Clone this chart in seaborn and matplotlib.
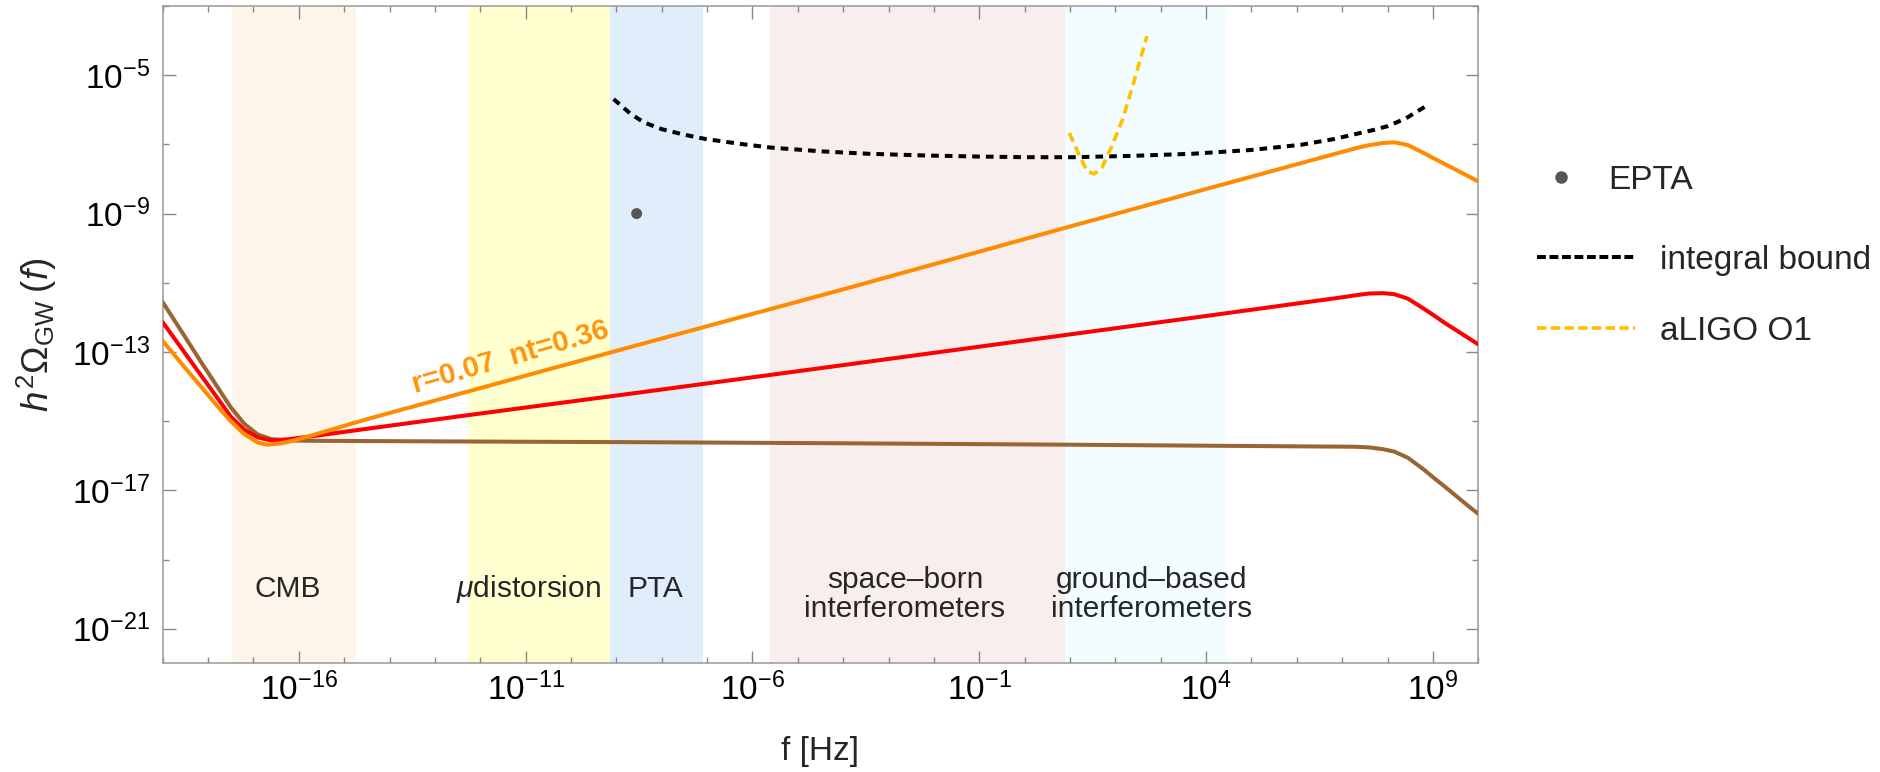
import numpy as np
import matplotlib
matplotlib.use("Agg")
import matplotlib.pyplot as plt
import seaborn as sns
from matplotlib.ticker import FixedLocator, NullFormatter, LogFormatterSciNotation
from matplotlib.lines import Line2D

# ---------------------------------------------------------------
# Spectra, given as log10(f / Hz) and log10(h^2 Omega_GW)
# ---------------------------------------------------------------
# r = 0.07, consistency relation (nt = -r/8)
brown_logf = [-19.0, -18.5, -18.17, -17.8, -17.5, -17.2, -16.9, -16.6, -16.2, -15.5,
              -12.0, -8.25, -4.0, 0.9, 4.0, 7.3, 7.6, 7.9, 8.15, 8.45, 8.8, 9.03, 9.25,
              9.5, 9.75, 10.0]
brown_logomega = [-11.56, -12.58, -13.26, -14.0, -14.6, -15.08, -15.39, -15.52, -15.56, -15.57,
                  -15.59, -15.61, -15.64, -15.68, -15.71, -15.74, -15.76, -15.81, -15.88,
                  -16.06, -16.40, -16.65, -16.88, -17.15, -17.42, -17.68]

# intermediate blue tilt
red_logf = [-19.0, -18.5, -18.17, -17.8, -17.5, -17.2, -16.9, -16.6, -16.2, -15.5, -15.23,
            -12.29, -8.25, -4.0, 0.9, 4.0, 7.0, 7.3, 7.6, 7.9, 8.15, 8.45, 8.8, 9.03, 9.25,
            9.5, 9.75, 10.0]
red_logomega = [-12.14, -13.05, -13.65, -14.32, -14.87, -15.25, -15.47, -15.56, -15.52, -15.40,
                -15.35, -14.83, -14.13, -13.38, -12.51, -11.96, -11.42, -11.36, -11.31, -11.30,
                -11.33, -11.46, -11.75, -11.95, -12.15, -12.36, -12.57, -12.78]

# r = 0.07, nt = 0.36
orange_logf = [-19.0, -18.5, -18.17, -17.8, -17.5, -17.2, -16.9, -16.7, -16.4, -16.1, -15.5,
               -14.49, -12.29, -10.82, -8.25, -4.0, 0.9, 4.0, 7.3, 7.6, 7.9, 8.15, 8.45, 8.8,
               9.03, 9.25, 9.5, 9.75, 10.0]
orange_logomega = [-12.68, -13.47, -13.98, -14.56, -15.0, -15.38, -15.62, -15.68, -15.64, -15.56,
                   -15.33, -14.94, -14.15, -13.62, -12.70, -11.19, -9.41, -8.29, -7.11, -7.02,
                   -6.96, -6.94, -7.02, -7.25, -7.41, -7.56, -7.73, -7.90, -8.07]

# integral bound
bound_logf = [-9.06, -8.7, -8.4, -8.0, -7.5, -7.05, -6.3, -5.61, -4.5, -3.46, -2.2, -1.07,
              0.0, 1.08, 2.4, 3.71, 5.0, 6.10, 6.8, 7.30, 7.7, 8.01, 8.4, 8.85]
bound_logomega = [-5.69, -6.10, -6.36, -6.56, -6.72, -6.84, -6.98, -7.09, -7.20, -7.27, -7.32,
                  -7.35, -7.37, -7.37, -7.33, -7.27, -7.16, -7.01, -6.85, -6.70, -6.58, -6.47,
                  -6.25, -5.89]

# aLIGO O1 sensitivity
ligo_logf = [0.985, 1.20, 1.38, 1.536, 1.70, 1.92, 2.156, 2.40, 2.695]
ligo_logomega = [-6.67, -7.30, -7.78, -7.85, -7.68, -7.06, -6.29, -5.23, -3.87]

# EPTA point
epta_f = [2.8e-9]
epta_omega = [1.0e-9]

# frequency windows of the experiments (log10 f edges)
band_names = ["CMB", r"$\mu$distorsion", "PTA", "space\u2013born\ninterferometers",
              "ground\u2013based\ninterferometers"]
band_lo = [-17.47, -12.26, -9.13, -5.62, 0.90]
band_hi = [-14.75, -9.13, -7.08, 0.90, 4.45]
band_colors = ["#FDF4EA", "#FFFFD0", "#E0EEFC", "#F9EEEE", "#F3FDFF"]
band_label_logf = [-16.24, -10.93, -8.13, -2.64, 2.79]

x_major = [1e-16, 1e-11, 1e-6, 1e-1, 1e4, 1e9]
y_major = [1e-21, 1e-17, 1e-13, 1e-9, 1e-5]
y_minor = [1e-19, 1e-15, 1e-11, 1e-7, 1e-3]

# ---------------------------------------------------------------
sns.set_style("ticks")
plt.rcParams["font.family"] = ["Liberation Sans", "DejaVu Sans"]
plt.rcParams["mathtext.fontset"] = "custom"
plt.rcParams["mathtext.rm"] = "Liberation Sans"
plt.rcParams["mathtext.it"] = "Liberation Sans:italic"
plt.rcParams["mathtext.bf"] = "Liberation Sans:bold"

fig = plt.figure(figsize=(18.81, 7.72), dpi=100)
ax = fig.add_axes([0.0865, 0.1408, 0.6994, 0.8514])
ax.set_xscale("log")
ax.set_yscale("log")
ax.set_xlim(1e-19, 1e10)
ax.set_ylim(1e-22, 1e-3)

for lo, hi, c in zip(band_lo, band_hi, band_colors):
    ax.axvspan(10 ** lo, 10 ** hi, color=c, lw=0, zorder=0)


def curve(logf, logom, **kw):
    sns.lineplot(x=10 ** np.array(logf), y=10 ** np.array(logom), ax=ax,
                 sort=False, estimator=None, **kw)
    line = ax.lines[-1]
    line.set_solid_joinstyle("round")
    return line


curve(brown_logf, brown_logomega, color="#996633", lw=2.9, zorder=3)
curve(red_logf, red_logomega, color="#FF0000", lw=2.9, zorder=3)
curve(orange_logf, orange_logomega, color="#FF8C00", lw=2.9, zorder=3)
ln = curve(bound_logf, bound_logomega, color="black", lw=2.9, zorder=4)
ln.set_dashes([1.9, 1.5])
ln = curve(ligo_logf, ligo_logomega, color="#FFC000", lw=2.6, zorder=5)
ln.set_dashes([2.6, 1.5])

sns.scatterplot(x=epta_f, y=epta_omega, ax=ax, color="#555555", s=62,
                edgecolor="none", zorder=6)

# window labels
for i in range(3):
    ax.text(10 ** band_label_logf[i], 10 ** -20.08, band_names[i], ha="center",
            va="baseline", fontsize=21.5)
for i in range(3, 5):
    ax.text(10 ** band_label_logf[i], 10 ** -20.02, band_names[i], ha="center",
            va="center", fontsize=21.5, linespacing=1.05)

ax.text(10 ** -11.33, 10 ** -13.15, "r=0.07  nt=0.36", color="#FF9510", fontsize=21,
        fontweight="bold", rotation=16, rotation_mode="anchor", ha="center", va="center")

# axes styling
ax.xaxis.set_major_locator(FixedLocator(x_major))
ax.xaxis.set_minor_locator(FixedLocator([10.0 ** k for k in range(-19, 11)]))
ax.yaxis.set_major_locator(FixedLocator(y_major))
ax.yaxis.set_minor_locator(FixedLocator(y_minor))
ax.xaxis.set_major_formatter(LogFormatterSciNotation())
ax.yaxis.set_major_formatter(LogFormatterSciNotation())
ax.xaxis.set_minor_formatter(NullFormatter())
ax.yaxis.set_minor_formatter(NullFormatter())

for s in ax.spines.values():
    s.set_color("#999999")
    s.set_linewidth(1.1)
    s.set_visible(True)
ax.tick_params(which="both", direction="in", top=True, right=True, color="#888888",
               width=1.0, labelsize=24, labelcolor="black")
ax.tick_params(which="major", length=9)
ax.tick_params(which="minor", length=4.5)
ax.tick_params(axis="x", which="major", pad=7)
ax.tick_params(axis="y", which="major", pad=9)

ax.set_xlabel("f [Hz]", fontsize=24)
ax.set_ylabel(r"$h^2\Omega_{\mathrm{GW}}\;(f)$", fontsize=26.5)
ax.yaxis.set_label_coords(-0.079, 0.5)
ax.xaxis.set_label_coords(0.5, -0.11)

# legend
h_epta = Line2D([], [], marker="o", ls="none", color="#555555", markersize=8)
leg1 = ax.legend([h_epta], ["EPTA"], loc="upper left", bbox_to_anchor=(0.8211, 0.7863),
                 bbox_transform=fig.transFigure, frameon=False, fontsize=24,
                 handlelength=1.0, handletextpad=0.9, borderpad=0, borderaxespad=0)
ax.add_artist(leg1)
h_bound = Line2D([], [], color="black", lw=2.9, dashes=[2.2, 0.9])
h_ligo = Line2D([], [], color="#FFC000", lw=2.6, dashes=[2.6, 1.2])
ax.legend([h_bound, h_ligo], ["integral bound", "aLIGO O1"], loc="upper left",
          bbox_to_anchor=(0.817, 0.6826), bbox_transform=fig.transFigure, frameon=False,
          fontsize=24, handlelength=2.95, handletextpad=0.75, labelspacing=1.2,
          borderpad=0, borderaxespad=0)

fig.savefig("out.png", dpi=100)
